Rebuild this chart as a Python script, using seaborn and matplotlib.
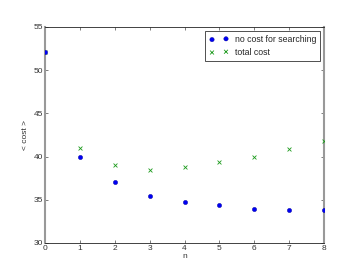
import matplotlib
matplotlib.use("Agg")
import matplotlib.pyplot as plt
import seaborn as sns
import pandas as pd

# Datos
n_vals = [0, 1, 2, 3, 4, 5, 6, 7, 8]
sin_coste = [52.1, 40.0, 37.05, 35.4, 34.8, 34.35, 33.9, 33.87, 33.8]
coste_total = [52.1, 41.0, 39.07, 38.4, 38.76, 39.34, 39.96, 40.9, 41.8]

etiquetas = ["no cost for searching", "total cost"]

sns.set_style("white")
plt.rcParams['font.family'] = ['Liberation Sans', 'DejaVu Sans']

fig = plt.figure(figsize=(4.8, 3.6), dpi=75)
ax = fig.add_axes([0.125, 0.1, 0.775, 0.8])

df1 = pd.DataFrame({'n': n_vals, 'cost': sin_coste})
df2 = pd.DataFrame({'n': n_vals, 'cost': coste_total})

sns.scatterplot(data=df2, x='n', y='cost', marker='x', color=(0.1, 0.6, 0.1),
                s=14, linewidth=0.8, ax=ax, label=etiquetas[1], zorder=4)
sns.scatterplot(data=df1, x='n', y='cost', marker='o', color=(0, 0, 0.95),
                s=18, edgecolor=(0, 0, 0.5), linewidth=0.3, ax=ax,
                label=etiquetas[0], zorder=5)

ax.set_xlim(0, 8)
ax.set_ylim(30, 55)
ax.set_xticks(range(0, 9))
ax.set_yticks(range(30, 56, 5))
ax.tick_params(direction='in', length=3, width=0.6, labelsize=8,
               top=True, right=True, left=True, bottom=True, pad=2,
               colors='#333333', labelcolor='#333333')
ax.set_xlabel('n', fontsize=8, labelpad=1, color='#333333')
ax.set_ylabel('< cost >', fontsize=8, labelpad=4, color='#333333')

for lado in ['top', 'bottom']:
    ax.spines[lado].set_color('#222222')
    ax.spines[lado].set_linewidth(0.8)
for lado in ['left', 'right']:
    ax.spines[lado].set_color('#999999')
    ax.spines[lado].set_linewidth(2)
    ax.spines[lado].set_zorder(2)

handles, labels = ax.get_legend_handles_labels()
leg = ax.legend(handles[::-1], labels[::-1], loc='upper right', fontsize=8.4,
                frameon=True, fancybox=False, scatterpoints=2,
                borderpad=0.45, handlelength=2.2, handletextpad=0.7,
                labelspacing=0.45, borderaxespad=0.45)
leg.get_frame().set_edgecolor('black')
leg.get_frame().set_linewidth(0.8)

fig.savefig('out.png', dpi=75)
